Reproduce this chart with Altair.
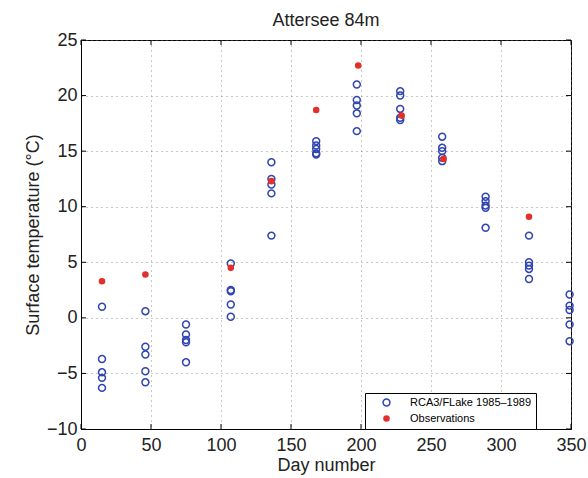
import altair as alt
import pandas as pd

# Model (RCA3/FLake 1985-1989) values: day number and surface temperature
model_days = [15]*5 + [46]*5 + [75]*5 + [107]*5 + [136]*5 + [168]*5 + [197]*5 + [228]*5 + [258]*5 + [289]*5 + [320]*5 + [349]*5
model_temps = [1.0, -3.7, -4.9, -5.4, -6.3,
               0.6, -2.6, -3.3, -4.8, -5.8,
               -0.6, -1.5, -2.0, -2.2, -4.0,
               4.9, 2.4, 2.5, 1.2, 0.1,
               14.0, 12.5, 12.0, 11.2, 7.4,
               15.9, 15.5, 15.2, 14.8, 14.7,
               21.0, 19.6, 19.1, 18.4, 16.8,
               20.4, 20.0, 18.8, 18.0, 17.8,
               16.3, 15.3, 15.0, 14.4, 14.1,
               10.9, 10.5, 10.1, 9.9, 8.1,
               7.4, 5.0, 4.7, 4.4, 3.5,
               2.1, 1.1, 0.7, -0.6, -2.1]

obs_days = [15, 46, 107, 136, 168, 198, 229, 259, 320]
obs_temps = [3.3, 3.9, 4.5, 12.3, 18.7, 22.7, 18.2, 14.3, 9.1]

series_names = ["RCA3/FLake 1985\u20131989", "Observations"]
x_ticks = [0, 50, 100, 150, 200, 250, 300, 350]
y_ticks = [-10, -5, 0, 5, 10, 15, 20, 25]

df = pd.concat([
    pd.DataFrame({"day": model_days, "temp": model_temps, "series": series_names[0]}),
    pd.DataFrame({"day": obs_days, "temp": obs_temps, "series": series_names[1]}),
], ignore_index=True)

BLUE = "#3145b0"
RED = "#e2302b"
FONT = "Liberation Sans"

xscale = alt.Scale(domain=[0, 350], nice=False, zero=False)
yscale = alt.Scale(domain=[-10, 25], nice=False, zero=False)

points = alt.Chart(df).mark_point(filled=False, strokeWidth=1.5, opacity=1).encode(
    x=alt.X("day:Q", scale=xscale,
            axis=alt.Axis(values=x_ticks, title="Day number", grid=True,
                          gridDash=[1, 4], gridColor="#777", gridOpacity=0.8,
                          tickSize=0, labelPadding=7, titlePadding=2,
                          labelFlush=False, labelOverlap=False)),
    y=alt.Y("temp:Q", scale=yscale,
            axis=alt.Axis(values=y_ticks, title="Surface temperature (\u00b0C)", grid=True,
                          gridDash=[1, 4], gridColor="#777", gridOpacity=0.8,
                          tickSize=0, labelPadding=4, titlePadding=4,
                          labelFlush=False, labelOverlap=False)),
    color=alt.Color("series:N", scale=alt.Scale(domain=series_names, range=[BLUE, RED]),
                    legend=alt.Legend(title=None, orient="none", legendX=284, legendY=353,
                                      strokeColor="black", fillColor="white", padding=4,
                                      labelFontSize=11, labelFont=FONT, labelColor="black",
                                      symbolStrokeWidth=1.5, rowPadding=3, labelOffset=18,
                                      symbolOffset=12, labelLimit=200)),
    fill=alt.Fill("series:N", scale=alt.Scale(domain=series_names, range=["transparent", RED]),
                  legend=None),
    size=alt.Size("series:N", scale=alt.Scale(domain=series_names, range=[48, 26]), legend=None),
    order=alt.Order("series:N", sort="descending"),
)

# inward tick marks on all four sides (MATLAB style)
xt = pd.DataFrame({"v": x_ticks})
yt = pd.DataFrame({"v": y_ticks})
tick_bottom = alt.Chart(xt).mark_rule(color="black").encode(
    x=alt.X("v:Q", scale=xscale), y=alt.value(389), y2=alt.value(384))
tick_top = alt.Chart(xt).mark_rule(color="black").encode(
    x=alt.X("v:Q", scale=xscale), y=alt.value(0), y2=alt.value(5))
tick_left = alt.Chart(yt).mark_rule(color="black").encode(
    y=alt.Y("v:Q", scale=yscale), x=alt.value(0), x2=alt.value(5))
tick_right = alt.Chart(yt).mark_rule(color="black").encode(
    y=alt.Y("v:Q", scale=yscale), x=alt.value(490), x2=alt.value(485))

chart = alt.layer(tick_bottom, tick_top, tick_left, tick_right, points).properties(
    width=490, height=389,
    title=alt.TitleParams("Attersee 84m", fontSize=18, font=FONT, fontWeight="normal",
                          color="#222", offset=1),
    autosize=alt.AutoSizeParams(type="none"),
    padding={"left": 81, "top": 40, "right": 17, "bottom": 49},
    background="white",
).configure_view(stroke="black", strokeWidth=1).configure_axis(
    labelFont=FONT, titleFont=FONT, labelFontSize=18, titleFontSize=18,
    labelColor="#222", titleColor="#222", titleFontWeight="normal",
    domainColor="black", domainWidth=1,
)

chart.save("out.html", embed_options={"renderer": "svg", "actions": False})
